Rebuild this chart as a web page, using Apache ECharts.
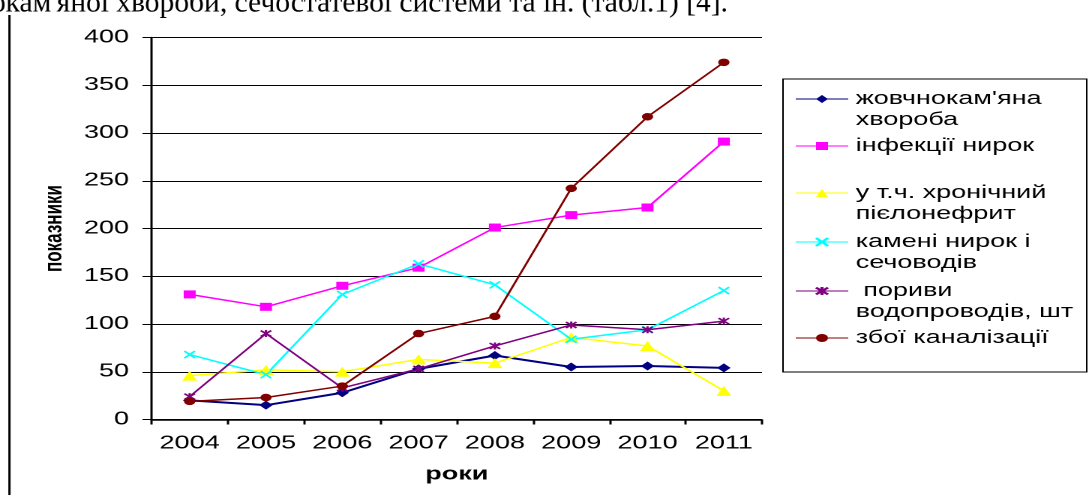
<!DOCTYPE html>
<html>
<head>
<meta charset="utf-8">
<script src="https://cdn.jsdelivr.net/npm/echarts@6/dist/echarts.min.js"></script>
<style>
  html, body { margin: 0; padding: 0; background: #fff; overflow: hidden; }
  /* the chart is laid out at 2/3 width and stretched sideways, like the original figure */
  #chart { width: 726px; height: 495px; transform: scaleX(1.5); transform-origin: 0 0; }
</style>
</head>
<body>
<div id="chart"></div>
<script>
// Years on the horizontal axis
const years = ['2004', '2005', '2006', '2007', '2008', '2009', '2010', '2011'];

// Series names (legend text, with line breaks)
const seriesNames = [
  "жовчнокам'яна\nхвороба",
  'інфекції нирок',
  'у т.ч. хронічний\nпієлонефрит',
  'камені нирок і\nсечоводів',
  ' пориви\nводопроводів, шт',
  'збої каналізації'
];

// Values per year
const gallstoneDisease   = [20, 15, 28, 53, 67, 55, 56, 54];
const kidneyInfections   = [131, 118, 140, 159, 201, 214, 222, 291];
const chronicPyelo       = [46, 52, 50, 63, 59, 86, 77, 30];
const kidneyStones       = [68, 47, 131, 163, 141, 84, 94, 135];
const waterPipeBursts    = [24, 90, 33, 53, 77, 99, 94, 103];
const sewerFailures      = [19, 23, 35, 90, 108, 242, 317, 374];

// Value axis ticks
const yMin = 0, yMax = 400, yStep = 50;

const seriesValues = [gallstoneDisease, kidneyInfections, chronicPyelo, kidneyStones, waterPipeBursts, sewerFailures];

// Marker styles per series
const looks = [
  { color: '#000080', symbol: 'diamond', size: 9, width: 2 },
  { color: '#FF00FF', symbol: 'rect', size: 8, width: 1.5 },
  { color: '#FFFF00', symbol: 'triangle', size: 10, width: 1.5 },
  { color: '#00FFFF', symbol: 'path://M0,0L10,10M10,0L0,10', size: 7, width: 1.5, stroke: true },
  { color: '#800080', symbol: 'path://M0,0L10,10M10,0L0,10M5,-1L5,11', size: 7, width: 1.5, stroke: true },
  { color: '#800000', symbol: 'circle', size: 7.5, width: 1.5 }
];

// Legend row centres (first text line of each entry)
const legendRowCenters = [99, 146, 193, 242, 291, 338];
const LH = 21;
const FONT = '"Liberation Sans", Arial, sans-serif';

const chart = echarts.init(document.getElementById('chart'), null, { renderer: 'canvas', devicePixelRatio: 2 });

const series = seriesNames.map((name, i) => {
  const lk = looks[i];
  return {
    name: name,
    type: 'line',
    data: seriesValues[i],
    symbol: lk.symbol,
    symbolSize: lk.size,
    showAllSymbol: true,
    lineStyle: { color: lk.color, width: lk.width },
    itemStyle: lk.stroke
      ? { color: lk.color, borderColor: lk.color, borderWidth: 1.5 }
      : { color: lk.color, borderWidth: 0 },
    emphasis: { disabled: true },
    animation: false
  };
});

// One legend block per entry; two-line entries get an empty first line so
// the marker sits beside the first line of text.
const legends = seriesNames.map((name, i) => {
  const twoLines = name.indexOf('\n') >= 0;
  return {
    data: [name],
    orient: 'vertical',
    left: 530,
    top: legendRowCenters[i] - (twoLines ? 1.5 * LH : LH / 2),
    padding: 0,
    itemWidth: 35,
    itemHeight: 10,
    itemGap: 0,
    selectedMode: false,
    formatter: n => (twoLines ? ' \n' + n : n),
    lineStyle: { width: 1 },
    textStyle: {
      fontFamily: FONT,
      fontSize: 18,
      color: '#000',
      lineHeight: LH
    }
  };
});

chart.setOption({
  backgroundColor: '#fff',
  animation: false,
  grid: { left: 101, right: 218, top: 37.5, bottom: 75.5, containLabel: false, outerBoundsMode: 'none' },
  xAxis: {
    type: 'category',
    data: years,
    boundaryGap: true,
    name: 'роки',
    nameLocation: 'middle',
    nameGap: 46,
    nameTextStyle: { fontFamily: FONT, fontSize: 18, fontWeight: 'bold', color: '#000' },
    axisLine: { show: true, lineStyle: { color: '#000', width: 1.5 } },
    axisTick: { show: true, length: 5, alignWithLabel: false, lineStyle: { color: '#000', width: 1.5 } },
    axisLabel: { fontFamily: FONT, fontSize: 18, color: '#000', margin: 15, interval: 0 },
    splitLine: { show: false }
  },
  yAxis: {
    type: 'value',
    min: yMin,
    max: yMax,
    interval: yStep,
    name: 'показники',
    nameLocation: 'middle',
    nameRotate: 90,
    nameGap: 56,
    nameTextStyle: { fontFamily: FONT, fontSize: 17, fontWeight: 'bold', color: '#000' },
    axisLine: { show: true, lineStyle: { color: '#000', width: 1.5 } },
    axisTick: { show: true, length: 6, lineStyle: { color: '#000', width: 1 } },
    axisLabel: { fontFamily: FONT, fontSize: 18, color: '#000', margin: 15 },
    splitLine: { show: true, lineStyle: { color: '#000', width: 1 } }
  },
  legend: legends,
  graphic: [
    {
      // closing words of the paragraph above the figure (body text is not stretched)
      type: 'text',
      x: 485.3,
      y: 3.5,
      scaleX: 1 / 1.5,
      style: {
        text: "жовчнокам'яної хвороби, сечостатевої системи та ін. (табл.1) [4].",
        font: '29.5px "Liberation Serif", "Times New Roman", serif',
        fill: '#000',
        textAlign: 'right',
        textVerticalAlign: 'middle'
      }
    },
    {
      type: 'line',
      shape: { x1: 6.3, y1: 15, x2: 6.3, y2: 495 },
      style: { stroke: '#000', lineWidth: 1.5 }
    },
    {
      type: 'rect',
      shape: { x: 522, y: 79, width: 202.5, height: 293 },
      style: { fill: 'none', stroke: '#000', lineWidth: 1 },
      z: -1
    }
  ],
  series: series
});
</script>
</body>
</html>
